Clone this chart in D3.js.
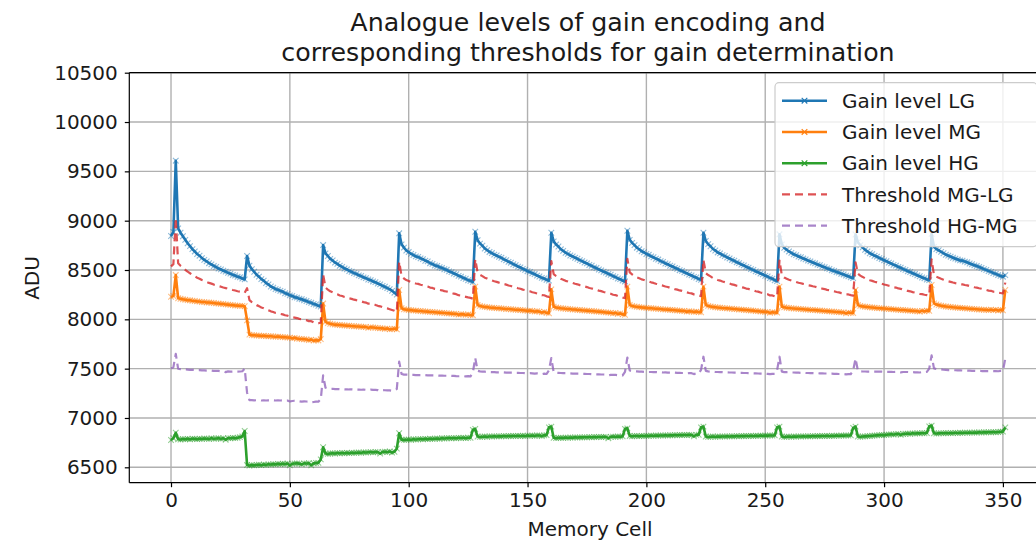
<!DOCTYPE html>
<html><head><meta charset="utf-8">
<script src="https://cdn.jsdelivr.net/npm/d3@7"></script>
<style>
html,body{margin:0;padding:0;background:#fff;}
svg{display:block;font-family:"DejaVu Sans",sans-serif;}
</style></head>
<body>
<svg id="chart" width="1036" height="541"></svg>
<script>
const titleLines = ["Analogue levels of gain encoding and", "corresponding thresholds for gain determination"];
const xLabel = "Memory Cell";
const yLabel = "ADU";
const xTicks = [0, 50, 100, 150, 200, 250, 300, 350];
const yTicks = [6500, 7000, 7500, 8000, 8500, 9000, 9500, 10000, 10500];
const seriesNames = ["Gain level LG", "Gain level MG", "Gain level HG", "Threshold MG-LG", "Threshold HG-MG"];

const gainLG = [
8845,8885,9608,8922,8878,8842,8806,8771,8742,8712,8688,8662,8645,8621,8603,8588,8569,8557,8540,8531,8514,8506,8492,8484,8471,8463,8450,8444,8431,8426,8414,8405,
8642,8545,8508,8482,8452,8433,8408,8392,8368,8354,8333,8322,8306,8300,8288,8281,8264,8258,8243,8237,8224,8220,8208,8204,8193,8186,8174,8168,8155,8150,8137,8130,
8753,8668,8642,8613,8597,8575,8562,8543,8532,8515,8507,8490,8482,8468,8461,8446,8439,8425,8418,8404,8398,8384,8377,8362,8354,8338,8330,8316,8306,8289,8270,8250,
8872,8760,8727,8698,8682,8663,8652,8638,8632,8618,8610,8594,8587,8569,8562,8546,8541,8528,8522,8508,8502,8486,8479,8464,8457,8440,8433,8418,8411,8396,8390,8378,
8888,8802,8768,8747,8718,8702,8683,8672,8656,8647,8633,8624,8608,8599,8583,8574,8558,8550,8534,8527,8511,8502,8488,8481,8466,8459,8443,8434,8420,8414,8400,8392,
8878,8790,8758,8738,8710,8694,8674,8664,8647,8638,8624,8614,8600,8590,8576,8567,8551,8543,8527,8520,8505,8496,8482,8474,8460,8452,8437,8429,8414,8407,8392,8384,
8898,8806,8775,8752,8726,8710,8690,8680,8662,8654,8638,8629,8614,8606,8590,8582,8566,8559,8543,8536,8521,8513,8498,8491,8476,8468,8453,8446,8430,8424,8408,8400,
8878,8794,8762,8741,8713,8698,8678,8668,8651,8642,8627,8617,8602,8594,8578,8570,8554,8547,8531,8524,8509,8501,8486,8479,8464,8456,8441,8434,8418,8412,8396,8388,
8862,8760,8725,8706,8688,8674,8659,8651,8636,8629,8616,8608,8595,8588,8575,8568,8555,8549,8535,8529,8516,8510,8497,8491,8479,8473,8461,8455,8443,8437,8425,8418,
8860,8782,8751,8730,8704,8688,8670,8660,8644,8636,8621,8612,8598,8590,8575,8567,8552,8545,8530,8523,8509,8501,8487,8480,8466,8459,8445,8437,8424,8417,8404,8397,
8866,8735,8712,8700,8684,8670,8655,8646,8635,8624,8615,8606,8597,8595,8585,8578,8566,8558,8547,8540,8530,8521,8509,8501,8489,8481,8468,8461,8449,8440,8432,8448
];
const gainMG = [
8229,8236,8449,8214,8208,8203,8199,8195,8193,8188,8186,8182,8180,8176,8175,8171,8170,8168,8165,8162,8160,8157,8155,8151,8149,8146,8144,8140,8139,8137,8136,8133,
7990,7845,7840,7838,7836,7835,7832,7833,7830,7828,7829,7826,7824,7825,7822,7820,7818,7816,7815,7808,7812,7806,7802,7800,7798,7796,7790,7794,7784,7788,7786,7800,
8160,7975,7962,7955,7950,7946,7944,7942,7940,7938,7936,7935,7932,7930,7928,7927,7925,7924,7922,7914,7920,7918,7915,7912,7910,7908,7904,7906,7900,7902,7905,7898,
8297,8112,8102,8098,8095,8093,8090,8088,8086,8085,8082,8080,8078,8075,8074,8072,8070,8068,8066,8064,8062,8060,8058,8056,8054,8048,8052,8050,8046,8049,8044,8042,
8331,8145,8136,8130,8126,8124,8120,8118,8116,8113,8112,8110,8108,8105,8104,8102,8100,8097,8096,8094,8092,8090,8086,8088,8084,8080,8082,8078,8070,8074,8066,8062,
8304,8128,8120,8116,8112,8110,8107,8105,8103,8100,8099,8096,8095,8092,8090,8088,8086,8084,8082,8080,8078,8076,8073,8070,8068,8066,8062,8064,8056,8060,8050,8046,
8331,8145,8136,8131,8127,8124,8121,8119,8116,8114,8112,8110,8108,8106,8104,8101,8100,8098,8096,8094,8092,8090,8088,8086,8084,8078,8082,8080,8076,8078,8074,8072,
8331,8145,8136,8130,8126,8123,8120,8118,8115,8113,8111,8109,8107,8104,8103,8100,8098,8096,8094,8092,8090,8088,8085,8083,8080,8078,8076,8074,8066,8072,8070,8068,
8331,8128,8122,8118,8115,8112,8110,8108,8106,8104,8102,8100,8098,8096,8095,8093,8091,8089,8087,8085,8083,8081,8079,8077,8075,8073,8071,8070,8062,8068,8066,8064,
8297,8145,8136,8131,8128,8125,8122,8120,8118,8115,8113,8111,8109,8107,8105,8103,8101,8099,8097,8095,8094,8092,8090,8088,8086,8084,8082,8078,8086,8082,8088,8086,
8348,8162,8150,8144,8138,8134,8130,8127,8125,8122,8120,8118,8116,8114,8112,8110,8108,8106,8104,8102,8100,8099,8097,8096,8094,8098,8093,8096,8090,8094,8092,8297
];
const gainHG = [
6777,6795,6850,6784,6782,6786,6785,6788,6784,6790,6788,6786,6790,6788,6792,6790,6788,6794,6790,6792,6795,6790,6794,6780,6796,6794,6798,6796,6800,6806,6812,6868,
6523,6518,6522,6520,6524,6526,6522,6528,6525,6530,6528,6532,6530,6535,6532,6536,6534,6538,6520,6536,6538,6540,6537,6530,6540,6538,6542,6520,6540,6544,6545,6580,
6703,6640,6636,6640,6642,6640,6644,6642,6645,6643,6646,6644,6648,6646,6648,6650,6648,6652,6650,6652,6654,6652,6655,6654,6640,6656,6658,6655,6660,6650,6658,6690,
6845,6780,6778,6780,6782,6780,6784,6782,6785,6786,6784,6788,6786,6790,6788,6790,6792,6790,6794,6792,6794,6796,6794,6796,6795,6798,6797,6799,6796,6800,6800,6880,
6888,6812,6808,6810,6812,6810,6813,6812,6814,6813,6815,6814,6816,6815,6817,6816,6818,6817,6819,6818,6820,6818,6821,6820,6822,6820,6823,6822,6818,6824,6826,6905,
6912,6800,6796,6798,6800,6798,6801,6800,6802,6801,6803,6802,6804,6803,6805,6804,6806,6805,6807,6806,6808,6807,6809,6808,6795,6809,6811,6810,6812,6811,6813,6890,
6895,6818,6815,6817,6818,6816,6819,6818,6820,6819,6821,6820,6822,6821,6823,6822,6824,6823,6825,6824,6826,6825,6827,6826,6828,6827,6829,6828,6815,6829,6830,6905,
6912,6812,6808,6810,6812,6810,6812,6811,6813,6812,6814,6813,6815,6814,6816,6815,6817,6816,6818,6817,6819,6818,6820,6819,6821,6820,6822,6821,6823,6822,6824,6905,
6912,6812,6808,6810,6811,6810,6812,6811,6813,6812,6814,6813,6815,6814,6816,6815,6817,6816,6818,6817,6819,6818,6820,6819,6821,6820,6822,6821,6823,6822,6824,6900,
6912,6812,6810,6812,6814,6816,6818,6820,6822,6824,6826,6828,6826,6830,6832,6834,6832,6836,6838,6830,6838,6840,6842,6840,6844,6843,6845,6844,6846,6845,6848,6915,
6922,6845,6842,6844,6846,6845,6847,6846,6848,6847,6849,6848,6850,6849,6851,6850,6852,6851,6853,6852,6854,6853,6855,6854,6856,6855,6857,6856,6858,6860,6862,6905
];
const thresholdMGLG = [
8537,8560,9028,8568,8543,8522,8502,8483,8467,8450,8437,8422,8412,8398,8389,8379,8369,8362,8352,8346,8337,8331,8323,8317,8310,8304,8297,8292,8285,8281,8275,8269,
8316,8195,8174,8160,8144,8134,8120,8112,8099,8091,8081,8074,8065,8062,8055,8050,8041,8037,8029,8022,8018,8013,8005,8002,7995,7991,7982,7981,7969,7969,7961,7965,
8456,8321,8302,8284,8273,8260,8253,8242,8236,8226,8221,8212,8207,8199,8194,8186,8182,8174,8170,8159,8159,8151,8146,8137,8132,8123,8117,8111,8103,8095,8087,8074,
8584,8436,8414,8398,8388,8378,8371,8363,8359,8351,8346,8337,8332,8322,8318,8309,8305,8298,8294,8286,8282,8273,8268,8260,8255,8244,8242,8234,8228,8222,8217,8210,
8610,8473,8452,8438,8422,8413,8401,8395,8386,8380,8372,8367,8358,8352,8343,8338,8329,8323,8315,8310,8301,8296,8287,8284,8275,8269,8262,8256,8245,8244,8233,8227,
8591,8459,8439,8427,8411,8402,8390,8384,8375,8369,8361,8355,8347,8341,8333,8327,8318,8313,8304,8300,8291,8286,8277,8272,8264,8259,8249,8246,8235,8233,8221,8215,
8614,8475,8455,8441,8426,8417,8405,8399,8389,8384,8375,8369,8361,8356,8347,8341,8333,8328,8319,8315,8306,8301,8293,8288,8280,8273,8267,8263,8253,8251,8241,8236,
8604,8469,8449,8435,8419,8410,8399,8393,8383,8377,8369,8363,8354,8349,8340,8335,8326,8321,8312,8308,8299,8294,8285,8281,8272,8267,8258,8254,8242,8242,8233,8228,
8596,8444,8423,8412,8401,8393,8384,8379,8371,8366,8359,8354,8346,8342,8335,8330,8323,8319,8311,8307,8299,8295,8288,8284,8277,8273,8266,8262,8252,8252,8245,8241,
8578,8463,8443,8430,8416,8406,8396,8390,8381,8375,8367,8361,8353,8348,8340,8335,8326,8322,8313,8309,8301,8296,8288,8284,8276,8271,8263,8257,8255,8249,8246,8241,
8607,8448,8431,8422,8411,8402,8392,8386,8380,8373,8367,8362,8356,8354,8348,8344,8337,8332,8325,8321,8315,8310,8303,8298,8291,8289,8280,8278,8269,8267,8262,8372
];
const thresholdHGMG = [
7503,7515,7650,7499,7495,7494,7492,7491,7488,7489,7487,7484,7485,7482,7483,7480,7479,7481,7477,7477,7477,7473,7474,7465,7472,7470,7471,7468,7469,7471,7474,7500,
7256,7181,7181,7179,7180,7180,7177,7180,7177,7179,7178,7179,7177,7180,7177,7178,7176,7177,7167,7172,7175,7173,7169,7165,7169,7167,7166,7157,7162,7166,7165,7190,
7431,7307,7299,7297,7296,7293,7294,7292,7292,7290,7291,7289,7290,7288,7288,7288,7286,7288,7286,7283,7287,7285,7285,7283,7275,7282,7281,7280,7280,7276,7281,7294,
7571,7446,7440,7439,7438,7436,7437,7435,7435,7435,7433,7434,7432,7432,7431,7431,7431,7429,7430,7428,7428,7428,7426,7426,7424,7423,7424,7424,7421,7424,7422,7461,
7609,7478,7472,7470,7469,7467,7466,7465,7465,7463,7463,7462,7462,7460,7460,7459,7459,7457,7457,7456,7456,7454,7453,7454,7453,7450,7452,7450,7444,7449,7446,7483,
7608,7464,7458,7457,7456,7454,7454,7452,7452,7450,7451,7449,7449,7447,7447,7446,7446,7444,7444,7443,7443,7441,7441,7439,7431,7437,7436,7437,7434,7435,7431,7468,
7613,7481,7475,7474,7472,7470,7470,7468,7468,7466,7466,7465,7465,7463,7463,7461,7462,7460,7460,7459,7459,7457,7457,7456,7456,7452,7455,7454,7445,7453,7452,7488,
7621,7478,7472,7470,7469,7466,7466,7464,7464,7462,7462,7461,7461,7459,7459,7457,7457,7456,7456,7454,7454,7453,7452,7451,7450,7449,7449,7447,7444,7447,7447,7486,
7621,7470,7465,7464,7463,7461,7461,7459,7459,7458,7458,7456,7456,7455,7455,7454,7454,7452,7452,7451,7451,7449,7449,7448,7448,7446,7446,7445,7442,7445,7445,7482,
7604,7478,7473,7471,7471,7470,7470,7470,7470,7469,7469,7469,7467,7468,7468,7468,7466,7467,7467,7462,7466,7466,7466,7464,7465,7463,7463,7461,7466,7463,7468,7500,
7635,7503,7496,7494,7492,7489,7488,7486,7486,7484,7484,7483,7483,7481,7481,7480,7480,7478,7478,7477,7477,7476,7476,7475,7475,7476,7475,7476,7474,7477,7477,7601
];

const colors = ["#1f77b4", "#ff7f0e", "#2ca02c", "#d62728", "#9467bd"];
const allSeries = [gainLG, gainMG, gainHG, thresholdMGLG, thresholdHGMG];
const dashed = [false, false, false, true, true];
const hasMarker = [true, true, true, false, false];

const svg = d3.select("#chart");
const W = 1036, H = 541;
const plot = {left: 129.3, right: 1047, top: 72.7, bottom: 482.7};

const x = d3.scaleLinear().domain([-17.55, 368.55]).range([plot.left, plot.right]);
const y = d3.scaleLinear().domain([6344, 10500]).range([plot.bottom, plot.top]);

svg.append("rect").attr("width", W).attr("height", H).attr("fill", "#fff");

svg.append("defs").append("clipPath").attr("id", "clip")
  .append("rect").attr("x", plot.left).attr("y", plot.top)
  .attr("width", plot.right - plot.left).attr("height", plot.bottom - plot.top);

// grid
const grid = svg.append("g");
grid.selectAll("line.gx").data(xTicks).join("line")
  .attr("x1", d => x(d)).attr("x2", d => x(d))
  .attr("y1", plot.top).attr("y2", plot.bottom)
  .attr("stroke", "#b0b0b0").attr("stroke-width", 1.4);
grid.selectAll("line.gy").data(yTicks).join("line")
  .attr("y1", d => y(d)).attr("y2", d => y(d))
  .attr("x1", plot.left).attr("x2", plot.right)
  .attr("stroke", "#b0b0b0").attr("stroke-width", 1.4);

// series
const gLines = svg.append("g").attr("clip-path", "url(#clip)");
const xMark = "M-2.8,-2.8L2.8,2.8M-2.8,2.8L2.8,-2.8";
allSeries.forEach((s, k) => {
  const line = d3.line().x((d, i) => x(i)).y(d => y(d));
  gLines.append("path").datum(s)
    .attr("d", line)
    .attr("fill", "none")
    .attr("stroke", colors[k])
    .attr("stroke-width", dashed[k] ? 2.2 : 2.6)
    .attr("stroke-opacity", dashed[k] ? 0.8 : 1)
    .attr("stroke-dasharray", dashed[k] ? "8,5" : null)
    .attr("stroke-linejoin", "round");
  if (hasMarker[k]) {
    gLines.append("g").selectAll("path").data(s).join("path")
      .attr("transform", (d, i) => `translate(${x(i)},${y(d)})`)
      .attr("d", xMark)
      .attr("stroke", colors[k]).attr("stroke-width", 1.1)
      .attr("stroke-opacity", 0.5).attr("fill", "none");
  }
});

// axes
const xAxis = d3.axisBottom(x).tickValues(xTicks).tickSize(4.5).tickPadding(6).tickFormat(d3.format("d"));
const yAxis = d3.axisLeft(y).tickValues(yTicks).tickSize(4.5).tickPadding(7).tickFormat(d3.format("d"));
const gx = svg.append("g").attr("transform", `translate(0,${plot.bottom})`).call(xAxis);
const gy = svg.append("g").attr("transform", `translate(${plot.left},0)`).call(yAxis);
[gx, gy].forEach(g => {
  g.select(".domain").remove();
  g.selectAll(".tick line").attr("stroke", "#000").attr("stroke-width", 1.2);
  g.selectAll(".tick text").attr("font-size", 20).attr("fill", "#1a1a1a").attr("font-family", "DejaVu Sans");
});
// spines
[[plot.left, plot.left, plot.top, plot.bottom], [plot.left, plot.right, plot.bottom, plot.bottom],
 [plot.left, plot.right, plot.top, plot.top], [plot.right, plot.right, plot.top, plot.bottom]].forEach(a => {
  svg.append("line").attr("x1", a[0]).attr("x2", a[1]).attr("y1", a[2]).attr("y2", a[3])
    .attr("stroke", "#000").attr("stroke-width", 1.2);
});

// labels
svg.append("text").attr("x", 590).attr("y", 536).attr("text-anchor", "middle")
  .attr("font-size", 20).attr("fill", "#1a1a1a").text(xLabel);
svg.append("text").attr("transform", "translate(39,278) rotate(-90)").attr("text-anchor", "middle")
  .attr("font-size", 20).attr("fill", "#1a1a1a").text(yLabel);
titleLines.forEach((t, i) => {
  svg.append("text").attr("x", 588).attr("y", 31 + i * 30).attr("text-anchor", "middle")
    .attr("font-size", 25.3).attr("fill", "#1a1a1a").text(t);
});

// legend
const leg = svg.append("g");
leg.append("rect").attr("x", 775).attr("y", 82.7).attr("width", 262).attr("height", 164).attr("rx", 4)
  .attr("fill", "#fff").attr("fill-opacity", 0.8).attr("stroke", "#cccccc").attr("stroke-width", 1.2);
seriesNames.forEach((name, k) => {
  const cy = 100.7 + k * 31.25;
  leg.append("line").attr("x1", 782).attr("x2", 827).attr("y1", cy).attr("y2", cy)
    .attr("stroke", colors[k]).attr("stroke-width", dashed[k] ? 2.2 : 2.6)
    .attr("stroke-opacity", dashed[k] ? 0.8 : 1)
    .attr("stroke-dasharray", dashed[k] ? "8,5" : null);
  if (hasMarker[k]) {
    leg.append("path").attr("transform", `translate(804.5,${cy})`)
      .attr("d", xMark).attr("stroke", colors[k]).attr("stroke-width", 1.1);
  }
  leg.append("text").attr("x", 842).attr("y", cy).attr("dy", "0.36em")
    .attr("font-size", 20).attr("fill", "#1a1a1a").text(name);
});

if (allSeries.some(s => s.length !== 352)) {
  svg.append("text").attr("x", 300).attr("y", 300).attr("fill", "red").text("LEN " + allSeries.map(s => s.length).join(","));
}
</script>
</body></html>
